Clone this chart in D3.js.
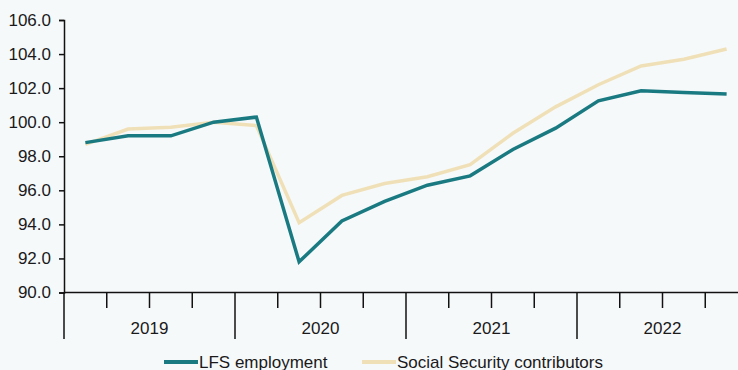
<!DOCTYPE html>
<html>
<head>
<meta charset="utf-8">
<script src="https://cdn.jsdelivr.net/npm/d3@7"></script>
<style>
  body { margin: 0; background: #f6f9fa; }
  text { font-family: "Liberation Sans", Arial, sans-serif; fill: #1a1a1a; }
</style>
</head>
<body>
<div id="chart"></div>
<script>
var years = ['2019', '2020', '2021', '2022'];
var quarters = ['2019Q1', '2019Q2', '2019Q3', '2019Q4',
                '2020Q1', '2020Q2', '2020Q3', '2020Q4',
                '2021Q1', '2021Q2', '2021Q3', '2021Q4',
                '2022Q1', '2022Q2', '2022Q3', '2022Q4'];
var lfsEmployment = [98.8, 99.2, 99.2, 100.0, 100.3, 91.8, 94.2, 95.35, 96.3, 96.85, 98.4, 99.65, 101.25, 101.85, 101.75, 101.65];
var socialSecurity = [98.7, 99.6, 99.7, 100.0, 99.8, 94.1, 95.7, 96.4, 96.8, 97.5, 99.35, 100.9, 102.2, 103.3, 103.7, 104.3];
var yTicks = [90, 92, 94, 96, 98, 100, 102, 104, 106];

var width = 738,
  height = 370;

var margin = { top: 20, right: -10, bottom: 77.5, left: 64 };

var svg = d3.select('#chart')
  .append('svg')
  .attr('width', width)
  .attr('height', height);

svg.append('rect')
  .attr('width', width)
  .attr('height', height)
  .attr('fill', '#f6f9fa');

var x = d3.scaleBand()
  .domain(quarters)
  .range([margin.left, width - margin.right]);

var xYear = d3.scaleBand()
  .domain(years)
  .range([margin.left, width - margin.right]);

var y = d3.scaleLinear()
  .domain([90, 106])
  .range([height - margin.bottom, margin.top]);

// y axis
var yAxis = svg.append('g')
  .attr('transform', 'translate(' + margin.left + ',0)')
  .call(d3.axisLeft(y).tickValues(yTicks).tickFormat(d3.format('.1f')).tickSize(5).tickPadding(8));
yAxis.select('.domain').attr('stroke', '#111').attr('stroke-width', 1.5);
yAxis.selectAll('.tick line').attr('stroke', '#111').attr('stroke-width', 1.5);
yAxis.selectAll('.tick text').style('font-size', '17px').attr('fill', '#1a1a1a');

// x axis line
var y0 = y(90);
svg.append('line')
  .attr('x1', margin.left)
  .attr('x2', width - margin.right)
  .attr('y1', y0)
  .attr('y2', y0)
  .attr('stroke', '#111')
  .attr('stroke-width', 1.5);

// quarter and year ticks
svg.selectAll('.qtick')
  .data(quarters)
  .enter()
  .append('line')
  .attr('class', 'qtick')
  .attr('x1', function(d) { return x(d); })
  .attr('x2', function(d) { return x(d); })
  .attr('y1', y0)
  .attr('y2', function(d) { return d.slice(4) === 'Q1' ? y0 + 46.5 : y0 + 15.5; })
  .attr('stroke', '#111')
  .attr('stroke-width', 1.5);

svg.selectAll('.yearlabel')
  .data(years)
  .enter()
  .append('text')
  .attr('class', 'yearlabel')
  .attr('x', function(d) { return xYear(d) + xYear.bandwidth() / 2; })
  .attr('y', y0 + 41.5)
  .attr('text-anchor', 'middle')
  .style('font-size', '17px')
  .text(function(d) { return d; });

// lines
var line = d3.line()
  .x(function(d, i) { return x(quarters[i]) + x.bandwidth() / 2; })
  .y(function(d) { return y(d); });

svg.append('path')
  .datum(socialSecurity)
  .attr('fill', 'none')
  .attr('stroke', '#f0e0b8')
  .attr('stroke-width', 3.5)
  .attr('d', line);

svg.append('path')
  .datum(lfsEmployment)
  .attr('fill', 'none')
  .attr('stroke', '#1a7a82')
  .attr('stroke-width', 3.5)
  .attr('d', line);

// legend
var legend = [
  { name: 'LFS employment', color: '#1a7a82', x: 164 },
  { name: 'Social Security contributors', color: '#f0e0b8', x: 362 }
];

var items = svg.selectAll('.legend')
  .data(legend)
  .enter()
  .append('g')
  .attr('class', 'legend')
  .attr('transform', function(d) { return 'translate(' + d.x + ',362)'; });

items.append('line')
  .attr('x1', 0)
  .attr('x2', 34)
  .attr('stroke', function(d) { return d.color; })
  .attr('stroke-width', 4);

items.append('text')
  .attr('x', 35)
  .attr('y', 6)
  .style('font-size', '17px')
  .text(function(d) { return d.name; });
</script>
</body>
</html>
